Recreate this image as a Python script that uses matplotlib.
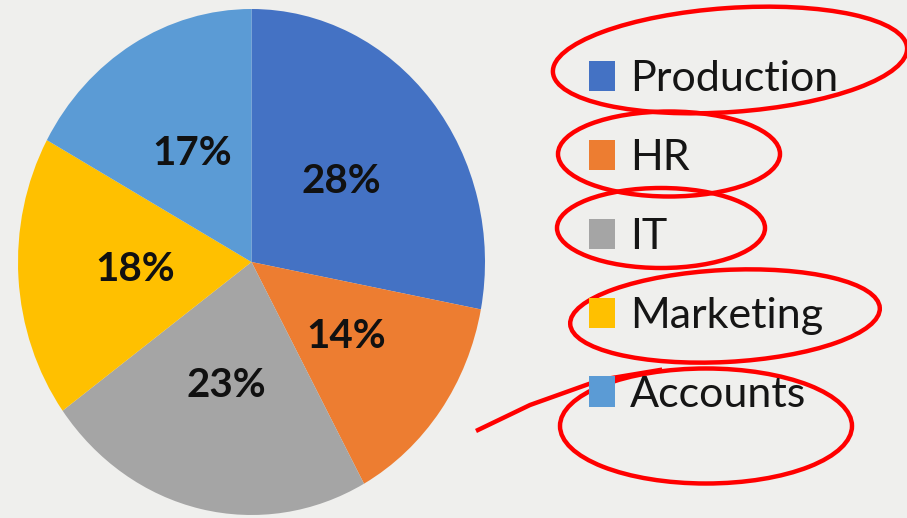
import matplotlib.pyplot as plt
from matplotlib.patches import Ellipse
import numpy as np

# Data
departments = ['Production', 'HR', 'IT', 'Marketing', 'Accounts']
shares = [28, 14, 23, 18, 17]
colors = ['#4472C4', '#ED7D31', '#A5A5A5', '#FFC000', '#5B9BD5']

W, H = 907, 518
bg = '#efefed'

plt.rcParams['font.family'] = ['Lato', 'DejaVu Sans']

fig = plt.figure(figsize=(W / 100, H / 100), dpi=100, facecolor=bg)

# pie is a bit stretched vertically in the reference, so no equal aspect
ax = fig.add_axes([18 / W, 1 - 515 / H, 467 / W, 506 / H])
ax.set_facecolor(bg)
wedges, texts, autotexts = ax.pie(
    shares, colors=colors, startangle=90, counterclock=False,
    autopct='%d%%', pctdistance=0.5,
    textprops=dict(fontsize=29, fontweight='bold', color='#111111'))
ax.set_aspect('auto')
ax.set_xlim(-1, 1)
ax.set_ylim(-1, 1)
ax.axis('off')

leg = fig.legend(wedges, departments, loc='upper left',
                 bbox_to_anchor=(589 / W, 1 - 60 / H),
                 frameon=False, fontsize=31, borderpad=0, borderaxespad=0,
                 handlelength=0.6, handleheight=0.7, handletextpad=0.35,
                 labelspacing=0.95)
for t in leg.get_texts():
    t.set_color('#151515')

# red hand-drawn marks around the legend entries
ov = fig.add_axes([0, 0, 1, 1], facecolor='none')
ov.set_xlim(0, W)
ov.set_ylim(H, 0)
ov.axis('off')
marks = [((730, 60), 355, 104, 4),
         ((669, 154), 222, 85, 0),
         ((661, 228), 208, 80, 0),
         ((725, 316), 310, 92, 3),
         ((706, 426), 292, 115, 0)]
for (cx, cy), w, h, ang in marks:
    ov.add_patch(Ellipse((cx, cy), w, h, angle=-ang, fill=False,
                         edgecolor='#ff0000', lw=3.2))
ov.plot([478, 530, 600, 660], [430, 405, 380, 370], color='#ff0000', lw=3.2)

fig.savefig('out.png', dpi=100, facecolor=bg)
